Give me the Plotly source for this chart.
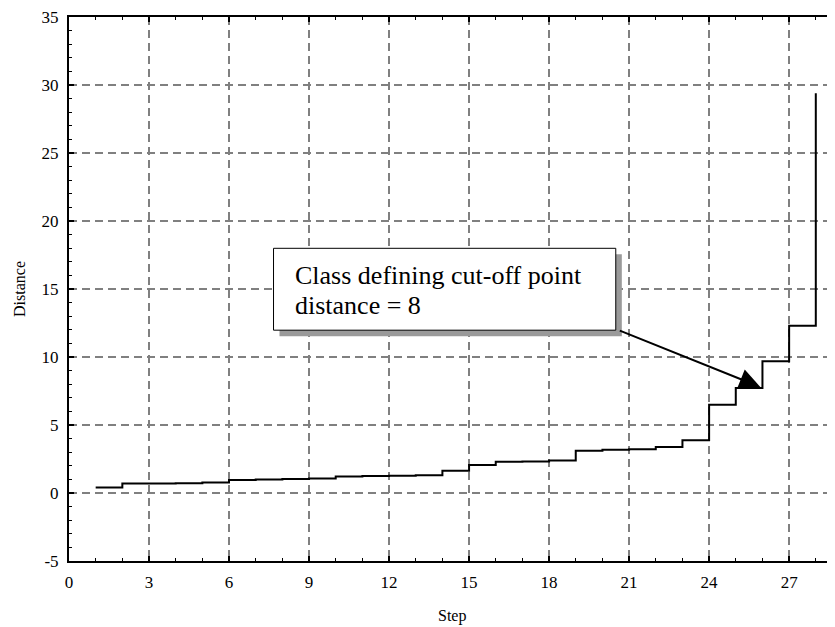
import plotly.graph_objects as go

steps = list(range(1, 29))
distance = [0.40, 0.70, 0.70, 0.72, 0.77, 0.95, 1.00, 1.03, 1.07, 1.22,
            1.25, 1.27, 1.30, 1.64, 2.06, 2.29, 2.31, 2.39, 3.11, 3.18,
            3.22, 3.38, 3.88, 6.49, 7.72, 9.69, 12.30, 29.4]

x_ticks = [0, 3, 6, 9, 12, 15, 18, 21, 24, 27]
y_ticks = [-5, 0, 5, 10, 15, 20, 25, 30, 35]
y_tick_labels = ["-5", "0", "5", "10", "15", "20", "25", "30", "35"]
note_lines = ["Class defining cut-off point", "distance = 8"]
x_title = "Step"
y_title = "Distance"

FONT = "Liberation Serif, Times New Roman, serif"

fig = go.Figure()
fig.add_trace(go.Scatter(
    x=steps, y=distance, mode="lines",
    line=dict(color="black", width=2, shape="hv"),
    hoverinfo="skip", showlegend=False,
))

axis_common = dict(
    showline=True, linecolor="black", linewidth=2,
    showgrid=True, gridcolor="#808080", gridwidth=1.5, griddash="8px,5px",
    zeroline=False, ticks="inside", ticklen=5, tickwidth=1.5, tickcolor="black",
    tickfont=dict(family=FONT, size=17, color="black"),
    ticklabeloverflow="allow",
    minor=dict(ticks="inside", ticklen=3, tickwidth=1.2, tickcolor="black",
               dtick=1, showgrid=False),
)

fig.update_xaxes(range=[0, 28.72], tickvals=x_ticks, mirror="allticks",
                 ticklabelstandoff=5, **axis_common)
fig.update_yaxes(range=[-5, 35], tickvals=y_ticks, ticktext=y_tick_labels,
                 mirror=False, ticklabelstandoff=5, **axis_common)

# annotation box with shadow
fig.add_shape(type="rect", xref="paper", yref="paper",
              x0=0.2748, x1=0.7217, y0=0.4133, y1=0.5639,
              fillcolor="#9a9a9a", line=dict(width=0), layer="above")
fig.add_shape(type="rect", xref="paper", yref="paper",
              x0=0.2670, x1=0.7138, y0=0.4243, y1=0.5748,
              fillcolor="white", line=dict(color="black", width=1), layer="above")

for txt, yp in zip(note_lines, [0.5257, 0.4692]):
    fig.add_annotation(text=txt, xref="paper", yref="paper", x=0.2927, y=yp,
                       xanchor="left", yanchor="middle", showarrow=False,
                       font=dict(family=FONT, size=26, color="black"))

# arrow pointing to cut-off step
fig.add_annotation(x=25.92, y=7.79, xref="x", yref="y", text="",
                   showarrow=True, arrowhead=2, arrowsize=2.1, arrowwidth=2,
                   arrowcolor="black", ax=-142, ay=-57, axref="pixel", ayref="pixel")

# axis titles
fig.add_annotation(text=x_title, xref="paper", yref="paper", x=0.5, y=-0.102,
                   xanchor="center", yanchor="middle", showarrow=False,
                   font=dict(family=FONT, size=16, color="black"))
fig.add_annotation(text=y_title, xref="paper", yref="paper", x=-0.0653, y=0.5,
                   xanchor="center", yanchor="middle", showarrow=False, textangle=-90,
                   font=dict(family=FONT, size=16, color="black"))

# the page body has an 8px default margin, so the figure is shrunk by 8px
fig.update_layout(
    width=827, height=619,
    margin=dict(l=61, r=0, t=3, b=66),
    paper_bgcolor="white", plot_bgcolor="white",
    font=dict(family=FONT, color="black"),
)

fig.write_html("out.html")
